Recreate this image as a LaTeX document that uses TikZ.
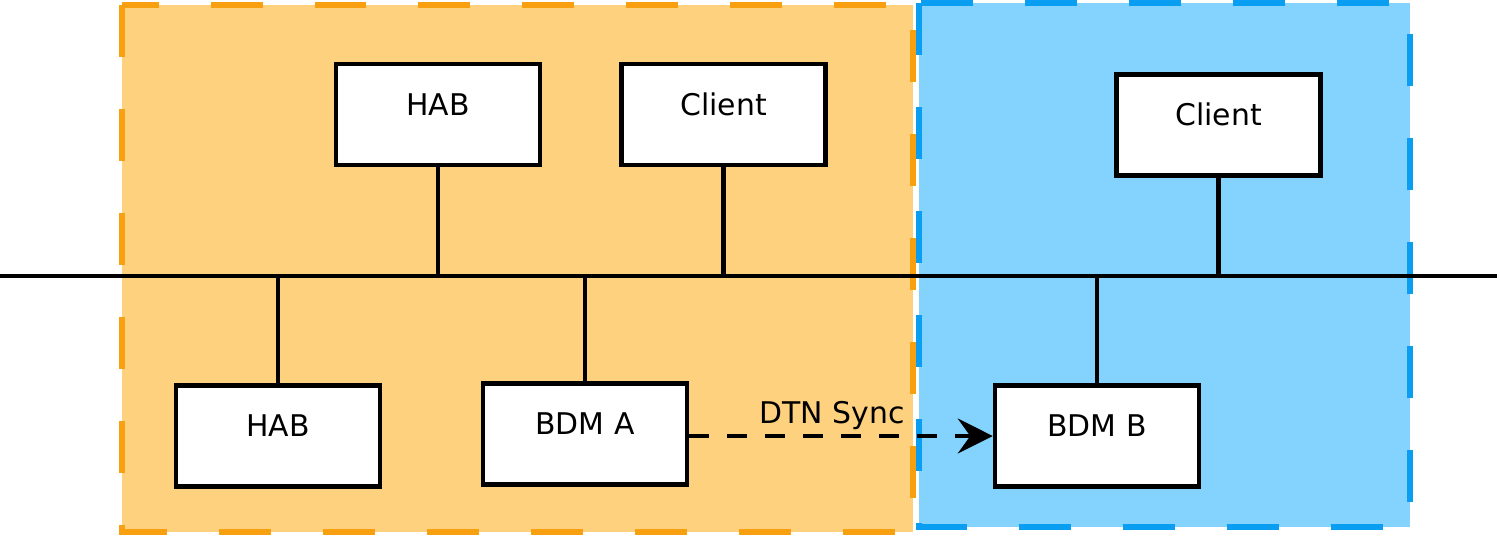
\documentclass[tikz,border=0pt]{standalone}
\usepackage{fontspec}
\setmainfont{DejaVu Sans}
\usetikzlibrary{arrows.meta}

\definecolor{siteAfill}{HTML}{FDD17E}
\definecolor{siteAline}{HTML}{F9A010}
\definecolor{siteBfill}{HTML}{83D3FE}
\definecolor{siteBline}{HTML}{0A9EF2}

\begin{document}
\begin{tikzpicture}[x=0.02cm, y=-0.02cm, >=Stealth,
    hostbox/.style={draw, line width=2.6pt, fill=white, inner sep=0pt,
        minimum width=4.08cm, minimum height=2.02cm,
        font=\fontsize{17}{20}\selectfont, text height=13pt, text depth=12pt},
    link/.style={line width=2.4pt},
    site/.style={line width=3pt, dash pattern=on 1.04cm off 1.04cm}]
    \useasboundingbox (0,0) rectangle (1500,539);

    % Two sites
    \draw[site, draw=siteAline, fill=siteAfill] (122,5) rectangle (913,532);
    \draw[site, draw=siteBline, fill=siteBfill] (919,3) rectangle (1410,527);

    % Shared bus
    \coordinate (busL) at (0,276);
    \coordinate (busR) at (1497,276);
    \draw[link] (busL) -- (busR);

    % Hosts above the bus
    \node[hostbox] (habTop)  at (438,114.5)   {HAB};
    \node[hostbox] (clientA) at (723.5,114.5) {Client};
    \node[hostbox] (clientB) at (1218.5,125)  {Client};

    % Hosts below the bus
    \node[hostbox] (habBot) at (278,436) {HAB};
    \node[hostbox] (bdmA)   at (585,434) {BDM A};
    \node[hostbox] (bdmB)   at (1097,436) {BDM B};

    % Drops to the bus
    \foreach \host in {habTop, clientA, clientB}
        \draw[link] (\host.south) -- (\host.south |- busL);
    \foreach \host in {habBot, bdmA, bdmB}
        \draw[link] (\host.north) -- (\host.north |- busL);

    % Sync between the two BDMs
    \draw[->, line width=2.2pt, dash pattern=on 0.4cm off 0.36cm,
        arrows={-Stealth[length=0.7cm, width=0.7cm, inset=0.25cm]}]
        (bdmA.east |- bdmB.west) -- node[midway, anchor=base, xshift=-0.18cm, yshift=0.26cm,
        font=\fontsize{17}{20}\selectfont] {DTN Sync} (bdmB.west);
\end{tikzpicture}
\end{document}
